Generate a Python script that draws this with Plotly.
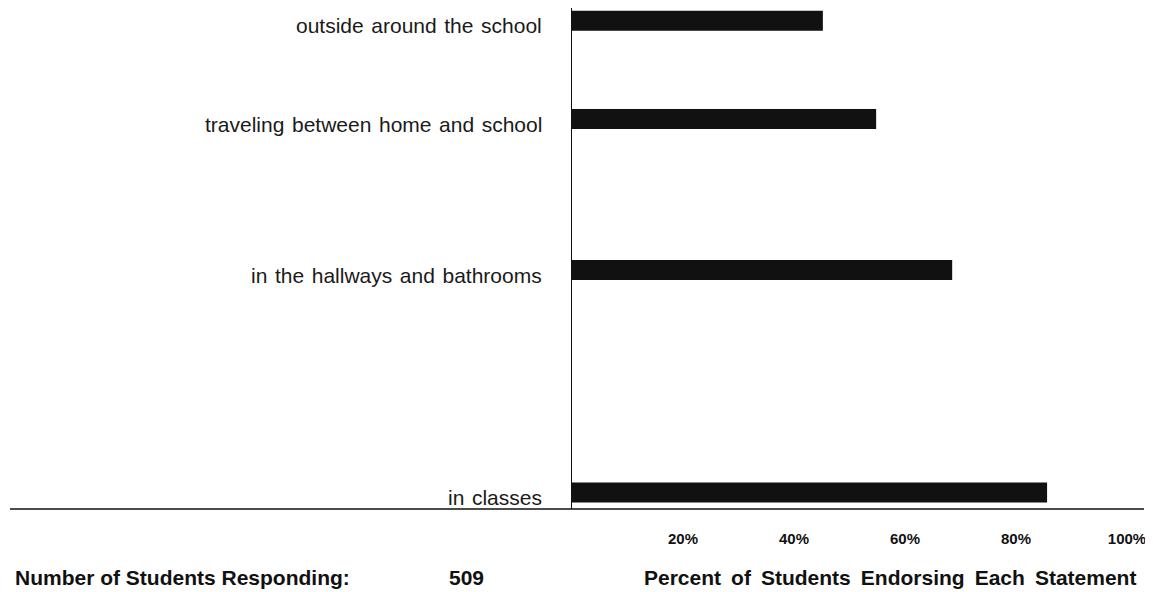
import plotly.graph_objects as go

# ---- data ----
categories = ["outside around the school",
              "traveling between home and school",
              "in the hallways and bathrooms",
              "in classes"]
percent = [45.2, 54.8, 68.5, 85.6]
tick_vals = [20, 40, 60, 80, 100]
tick_text = ["20%", "40%", "60%", "80%", "100%"]
n_label = "Number of Students Responding:"
n_value = "509"
x_title = "Percent of Students Endorsing Each Statement"

# ---- layout constants ----
OFF = 8                      # page body margin offset
W, H = 1153 - OFF, 592 - OFF
L, R, T, B = 564, 9, 0, 83
PLOT_W = W - L - R
PLOT_H = H - T - B
ROW_POS = [12.7, 111, 262, 484.5]   # vertical row placement (axis units)
FONT = "Liberation Sans, Arial, Helvetica, sans-serif"
INK = "#111111"

def spaced(s, extra="\u200a"):
    return s.replace(" ", " " + extra)

fig = go.Figure()
fig.add_trace(go.Bar(
    x=percent, y=ROW_POS, orientation="h",
    width=20, marker=dict(color=INK, line=dict(width=0)),
    hoverinfo="x", showlegend=False,
))

annotations = []
for cat, yp in zip(categories, ROW_POS):
    annotations.append(dict(
        text=spaced(cat), x=0, y=yp, xref="x", yref="y",
        xanchor="right", yanchor="middle", xshift=-28, yshift=-5,
        showarrow=False, font=dict(family=FONT, size=21, color="#1a1a1a")))

def px_x(px):
    return (px - OFF - L) / PLOT_W

def px_y(py):
    return (H - B - (py - OFF)) / PLOT_H

annotations += [
    dict(text=f"<b>{n_label}</b>", x=px_x(13), y=px_y(577), xref="paper", yref="paper",
         xanchor="left", yanchor="middle", showarrow=False,
         font=dict(family=FONT, size=21, color=INK)),
    dict(text=f"<b>{n_value}</b>", x=px_x(447), y=px_y(577), xref="paper", yref="paper",
         xanchor="left", yanchor="middle", showarrow=False,
         font=dict(family=FONT, size=21, color=INK)),
    dict(text=f"<b>{spaced(x_title, chr(0x2009))}</b>", x=px_x(890), y=px_y(577),
         xref="paper", yref="paper",
         xanchor="center", yanchor="middle", showarrow=False,
         font=dict(family=FONT, size=21, color=INK)),
]

fig.update_layout(
    width=W, height=H, autosize=False,
    margin=dict(l=L, r=R, t=T, b=B, pad=0),
    paper_bgcolor="white", plot_bgcolor="white",
    annotations=annotations,
    shapes=[dict(type="line", xref="paper", yref="paper",
                 x0=px_x(10), x1=1.0, y0=0, y1=0,
                 line=dict(color=INK, width=1.5))],
    xaxis=dict(range=[0, PLOT_W / 5.55], tickvals=tick_vals, ticktext=tick_text,
               showgrid=False, zeroline=False, showline=False, ticks="",
               ticklabelstandoff=19,
               tickfont=dict(family=FONT, size=15, color=INK, weight="bold")),
    yaxis=dict(range=[PLOT_H, 0], showgrid=False, zeroline=False,
               showticklabels=False, ticks="",
               showline=True, linecolor=INK, linewidth=1),
)

fig.write_html("out.html")
